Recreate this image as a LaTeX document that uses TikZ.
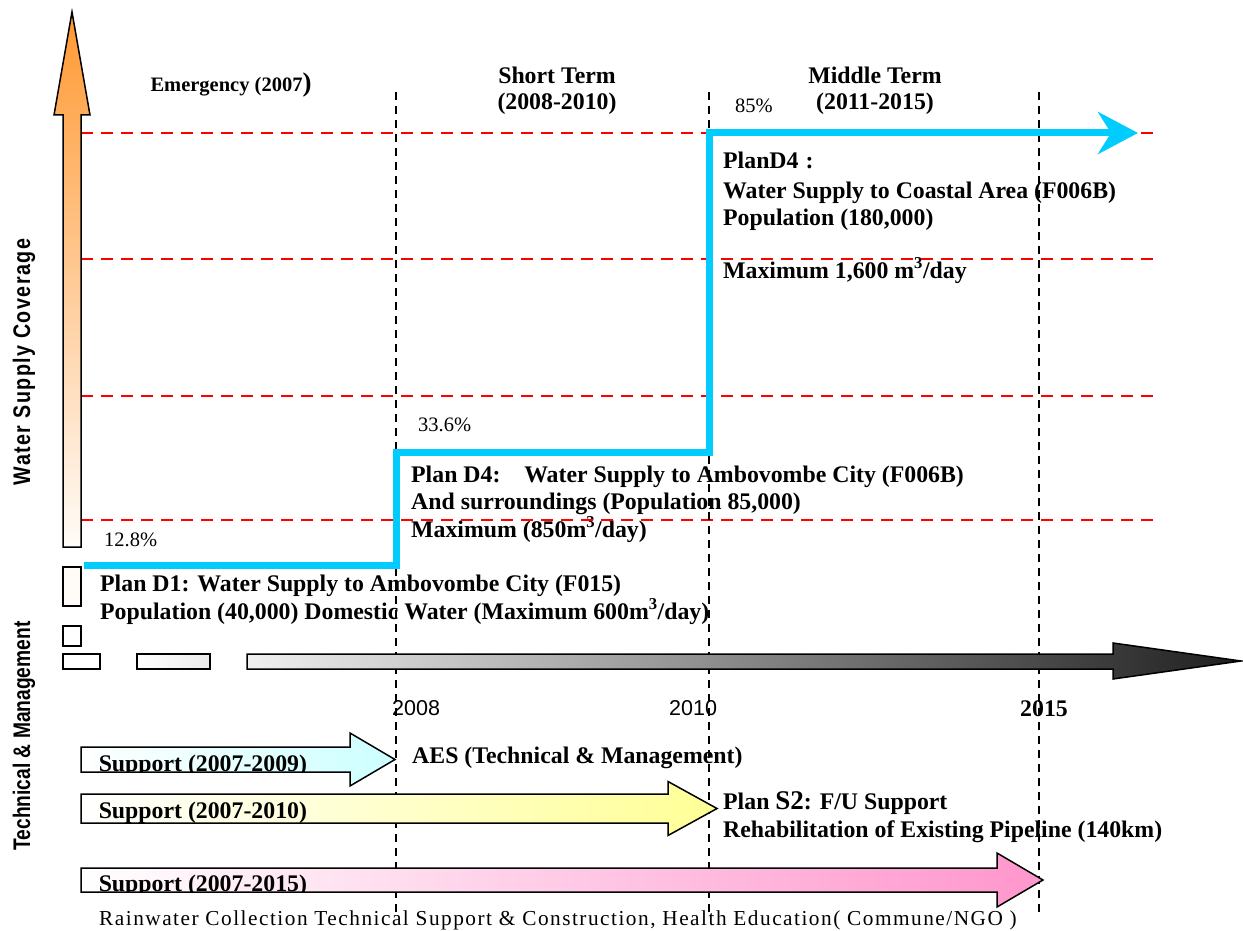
\documentclass[tikz,border=0pt]{standalone}
\usepackage{fontspec}
\setmainfont{Liberation Serif}
\setsansfont{Liberation Sans}
\newfontfamily\axefont[FakeStretch=0.82,LetterSpace=6]{Liberation Sans}
\newfontfamily\axefontb[FakeStretch=0.8]{Liberation Sans}
\newfontfamily\notefont[LetterSpace=7]{Liberation Serif}
\usetikzlibrary{arrows.meta}

\definecolor{bleuplan}{RGB}{0,204,255}
\definecolor{orangeaxe}{RGB}{255,153,51}
\definecolor{cyanaide}{RGB}{204,255,255}
\definecolor{jauneaide}{RGB}{255,255,150}
\definecolor{roseaide}{RGB}{255,150,204}

\tikzset{
  grille/.style={red, line width=1.8pt, dash pattern=on 12pt off 8pt},
  repere/.style={black, line width=1.2pt, dash pattern=on 8pt off 6pt},
  palier/.style={bleuplan, line width=7pt, -{Stealth[length=40pt,width=42pt,inset=13pt]}},
  contour/.style={draw=black, line width=1.5pt},
  plan/.style={font=\fontsize{23.8}{27.5}\selectfont\bfseries, align=left, anchor=base west, inner sep=0pt},
  periode/.style={font=\fontsize{23.8}{26}\selectfont\bfseries, align=center, anchor=base, inner sep=0pt},
  taux/.style={font=\fontsize{20.5}{24}\selectfont, anchor=base west, inner sep=0pt},
  annee/.style={font=\fontsize{21.5}{24}\selectfont\sffamily, anchor=base west, inner sep=0pt},
}

\begin{document}
\begin{tikzpicture}[x=1pt,y=-1pt]
\useasboundingbox (0,0) rectangle (1243,931);

% Titres des périodes et taux de couverture (ancre : ligne de base de la dernière ligne)
\node[periode, font=\fontsize{20.5}{24}\selectfont\bfseries] (urgence) at (231,92) {Emergency (2007{\fontsize{27}{27}\selectfont)}};
\node[periode] (court) at (557,110) {Short Term\\(2008-2010)};
\node[periode] (moyen) at (875,110) {Middle Term\\(2011-2015)};
\node[taux] (t85) at (735,113) {85\%};
\node[taux] (t336) at (418,431) {33.6\%};
\node[taux] (t128) at (104,546) {12.8\%};

% Les plans D1 et D4
\node[plan] (d4cote) at (723,278) {PlanD4\hspace{0.3em}:\\[2pt]Water Supply to Coastal Area (F006B)\\Population (180,000)\\[25pt]Maximum 1,600 m\textsuperscript{3}/day};
\node[plan] (d4ville) at (411,537) {Plan D4:\quad Water Supply to Ambovombe City (F006B)\\And surroundings (Population 85,000)\\Maximum (850m\textsuperscript{3}/day)};
\node[plan] (d1) at (100,619) {Plan D1: Water Supply to Ambovombe City (F015)\\Population (40,000) Domestic Water (Maximum 600m\textsuperscript{3}/day)};

% Années sous l'axe du temps
\node[annee] (a2008) at (392,715) {2008};
\node[annee] (a2010) at (669,715) {2010};
\node[plan] (a2015) at (1020,716) {2015};

% Appui technique
\node[plan] (aes) at (412,763) {AES (Technical \& Management)};
\node[plan] (s2) at (723,837) {Plan {\fontsize{27}{27}\selectfont S2}: F/U Support\\Rehabilitation of Existing Pipeline (140km)};
\node[taux, font=\notefont\fontsize{21.3}{24}\selectfont] (pluie) at (99,925) {Rainwater Collection Technical Support \& Construction, Health Education( Commune/NGO )};

% Titres des axes
\node[rotate=90, inner sep=0pt, font=\axefont\bfseries\fontsize{24}{24}\selectfont] (couverture) at (24,362) {Water Supply Coverage};
\node[rotate=90, inner sep=0pt, font=\axefontb\bfseries\fontsize{24}{24}\selectfont] (gestion) at (24,736) {Technical \& Management};

% Grille : niveaux de couverture et limites des périodes
\foreach \y in {133,259,396,520}
  \draw[grille] (81,\y) -- (1157,\y);
\foreach \x in {396,709,1039}
  \draw[repere] (\x,92) -- (\x,915);

% Progression de la couverture
\coordinate (p0) at (84,565);
\coordinate (p1) at (396,565);
\coordinate (p2) at (396,452);
\coordinate (p3) at (709,452);
\coordinate (p4) at (709,133);
\coordinate (p5) at (1138,133);
\draw[palier] (p0) -- (p1) -- (p2) -- (p3) -- (p4) -- (p5);

% Axe vertical
\path[contour, top color=orangeaxe, bottom color=orangeaxe!3] (63,547) -- (63,115) -- (54,115) -- (72,12) -- (90,115) -- (81,115) -- (81,547) -- cycle;
\path[contour, fill=orangeaxe!4] (63,567) rectangle (81,606);
\path[contour, fill=white] (63,626) rectangle (81,646);

% Axe du temps
\path[contour, fill=white] (63,654) rectangle (100,669);
\path[contour, left color=white, right color=black!8] (137,654) rectangle (210,669);
\path[contour, left color=black!6, right color=black!88] (247,654) -- (1113,654) -- (1113,643) -- (1241,661) -- (1113,679) -- (1113,669) -- (247,669) -- cycle;

% Flèches d'appui : base de la pointe / pointe / milieu / demi-corps / demi-pointe / couleur / ligne de base
\foreach \xb/\xt/\ym/\hs/\hh/\col/\yt/\txt [count=\i] in {
    350/395/759.5/12.5/26.5/cyanaide/771/{Support (2007-2009)},
    668/717/808.5/14.5/27/jauneaide/818/{Support (2007-2010)},
    997/1043/880/12/27/roseaide/891/{Support (2007-2015)}}
  \path[contour, left color=white, right color=\col,
        path picture={\node[plan] (aide\i) at (98,\yt) {\txt};}]
    (81,{\ym-\hs}) -- (\xb,{\ym-\hs}) -- (\xb,{\ym-\hh}) -- (\xt,\ym)
    -- (\xb,{\ym+\hh}) -- (\xb,{\ym+\hs}) -- (81,{\ym+\hs}) -- cycle;
\end{tikzpicture}
\end{document}
